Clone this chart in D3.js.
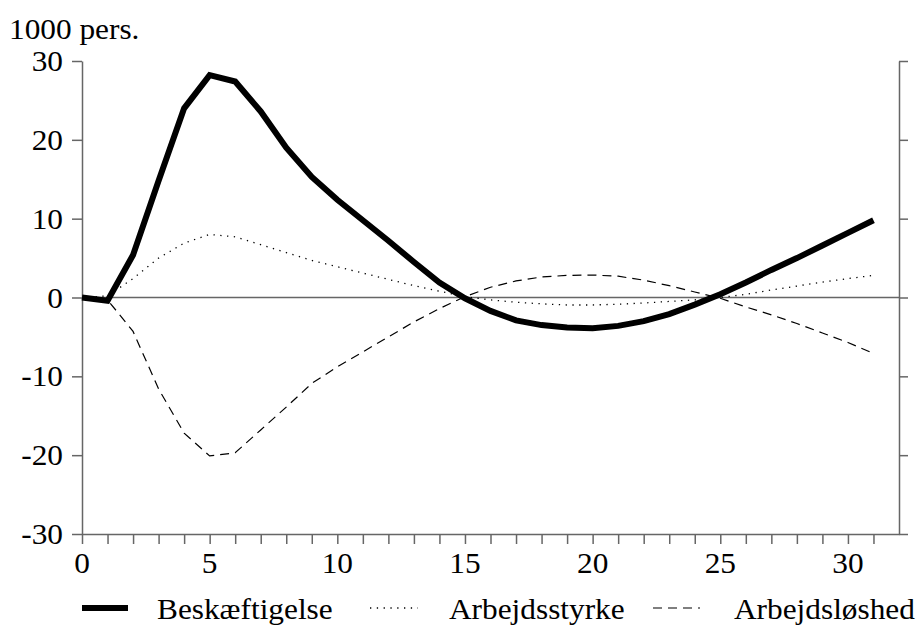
<!DOCTYPE html>
<html>
<head>
<meta charset="utf-8">
<script src="https://cdn.jsdelivr.net/npm/d3@7"></script>
<style>
  html, body { margin: 0; padding: 0; background: #fff; }
  svg { display: block; }
  text { font-family: "Liberation Serif", "Times New Roman", serif; fill: #000; }
</style>
</head>
<body>
<script>
// ---- data ----
const periods = d3.range(0, 32);
const beskaeftigelse = [0, -0.4, 5.4, 14.8, 24.0, 28.2, 27.4, 23.6, 19.0, 15.3, 12.4, 9.8, 7.2, 4.5, 1.9, -0.1, -1.7, -2.9, -3.5, -3.8, -3.9, -3.6, -3.0, -2.1, -0.9, 0.4, 1.9, 3.5, 5.0, 6.6, 8.2, 9.8];
const arbejdsstyrke = [0, 0.2, 2.4, 5.0, 6.9, 8.0, 7.7, 6.7, 5.7, 4.7, 3.9, 3.1, 2.3, 1.5, 0.8, 0.1, -0.3, -0.6, -0.8, -0.95, -0.95, -0.85, -0.7, -0.5, -0.3, 0.0, 0.4, 0.95, 1.45, 1.95, 2.4, 2.8];
const arbejdsloeshed = [0, -0.3, -4.3, -11.6, -17.2, -20.1, -19.7, -16.8, -13.9, -10.9, -8.8, -6.9, -5.0, -3.1, -1.4, 0.1, 1.3, 2.1, 2.6, 2.8, 2.85, 2.7, 2.2, 1.5, 0.7, -0.1, -1.2, -2.2, -3.3, -4.5, -5.7, -7.1];
const seriesNames = ["Beskæftigelse", "Arbejdsstyrke", "Arbejdsløshed"];
const yTicks = [-30, -20, -10, 0, 10, 20, 30];
const xLabelTicks = [0, 5, 10, 15, 20, 25, 30];
const xMinorTicks = d3.range(0, 32);
const yUnit = "1000 pers.";

// ---- layout ----
const W = 919, H = 625;
const mLeft = 82, mRight = 899, mTop = 61, mBottom = 534;
const SX = 1.08, FS = 29;

const svg = d3.select("body").append("svg").attr("width", W).attr("height", H);

const x = d3.scaleLinear().domain([0, 32]).range([mLeft, mRight]);
const y = d3.scaleLinear().domain([-30, 30]).range([mBottom, mTop]);

function label(g, px, py, txt, anchor) {
  return g.append("text")
    .attr("transform", `translate(${px},${py}) scale(${SX},1)`)
    .attr("text-anchor", anchor || "start")
    .attr("font-size", FS)
    .text(txt);
}

const axisColor = "#666";

// zero line
svg.append("line")
  .attr("x1", x(0)).attr("x2", x(32))
  .attr("y1", y(0)).attr("y2", y(0))
  .attr("stroke", axisColor).attr("stroke-width", 1.5);

// left axis
const gl = svg.append("g").attr("transform", `translate(${mLeft},0)`)
  .call(d3.axisLeft(y).tickValues(yTicks).tickSize(10).tickSizeOuter(0).tickFormat(""));
// right axis
const gr = svg.append("g").attr("transform", `translate(${mRight},0)`)
  .call(d3.axisRight(y).tickValues(yTicks).tickSize(9).tickSizeOuter(0).tickFormat(""));
// bottom axis
const gb = svg.append("g").attr("transform", `translate(0,${mBottom})`)
  .call(d3.axisBottom(x).tickValues(xMinorTicks).tickSize(10).tickSizeOuter(0).tickFormat(""));

[gl, gr, gb].forEach(g => {
  g.selectAll("path.domain").attr("stroke", axisColor).attr("stroke-width", 1.5);
  g.selectAll(".tick line").attr("stroke", axisColor).attr("stroke-width", 1.5);
});

// tick labels
yTicks.forEach(v => label(svg, 63, y(v) + 10, String(v), "end"));
xLabelTicks.forEach(v => label(svg, x(v), 573, String(v), "middle"));

// unit label
label(svg, 9, 39, yUnit, "start");

// lines
const line = d3.line().x((d, i) => x(periods[i])).y(d => y(d));
const styles = [
  { data: beskaeftigelse, width: 6, dash: null },
  { data: arbejdsstyrke, width: 1.3, dash: "1.3,5.5" },
  { data: arbejdsloeshed, width: 1.2, dash: "9,6" }
];
styles.forEach(s => {
  svg.append("path")
    .attr("d", line(s.data))
    .attr("fill", "none")
    .attr("stroke", "#000")
    .attr("stroke-width", s.width)
    .attr("stroke-linejoin", "miter")
    .attr("stroke-dasharray", s.dash);
});

// legend
const legendItems = [
  { x1: 82, x2: 128, tx: 157 },
  { x1: 370, x2: 418, tx: 449 },
  { x1: 653, x2: 700, tx: 734 }
];
legendItems.forEach((it, i) => {
  svg.append("line")
    .attr("x1", it.x1).attr("x2", it.x2)
    .attr("y1", 608).attr("y2", 608)
    .attr("stroke", "#000")
    .attr("stroke-width", styles[i].width)
    .attr("stroke-dasharray", styles[i].dash);
  label(svg, it.tx, 619, seriesNames[i], "start");
});
</script>
</body>
</html>
